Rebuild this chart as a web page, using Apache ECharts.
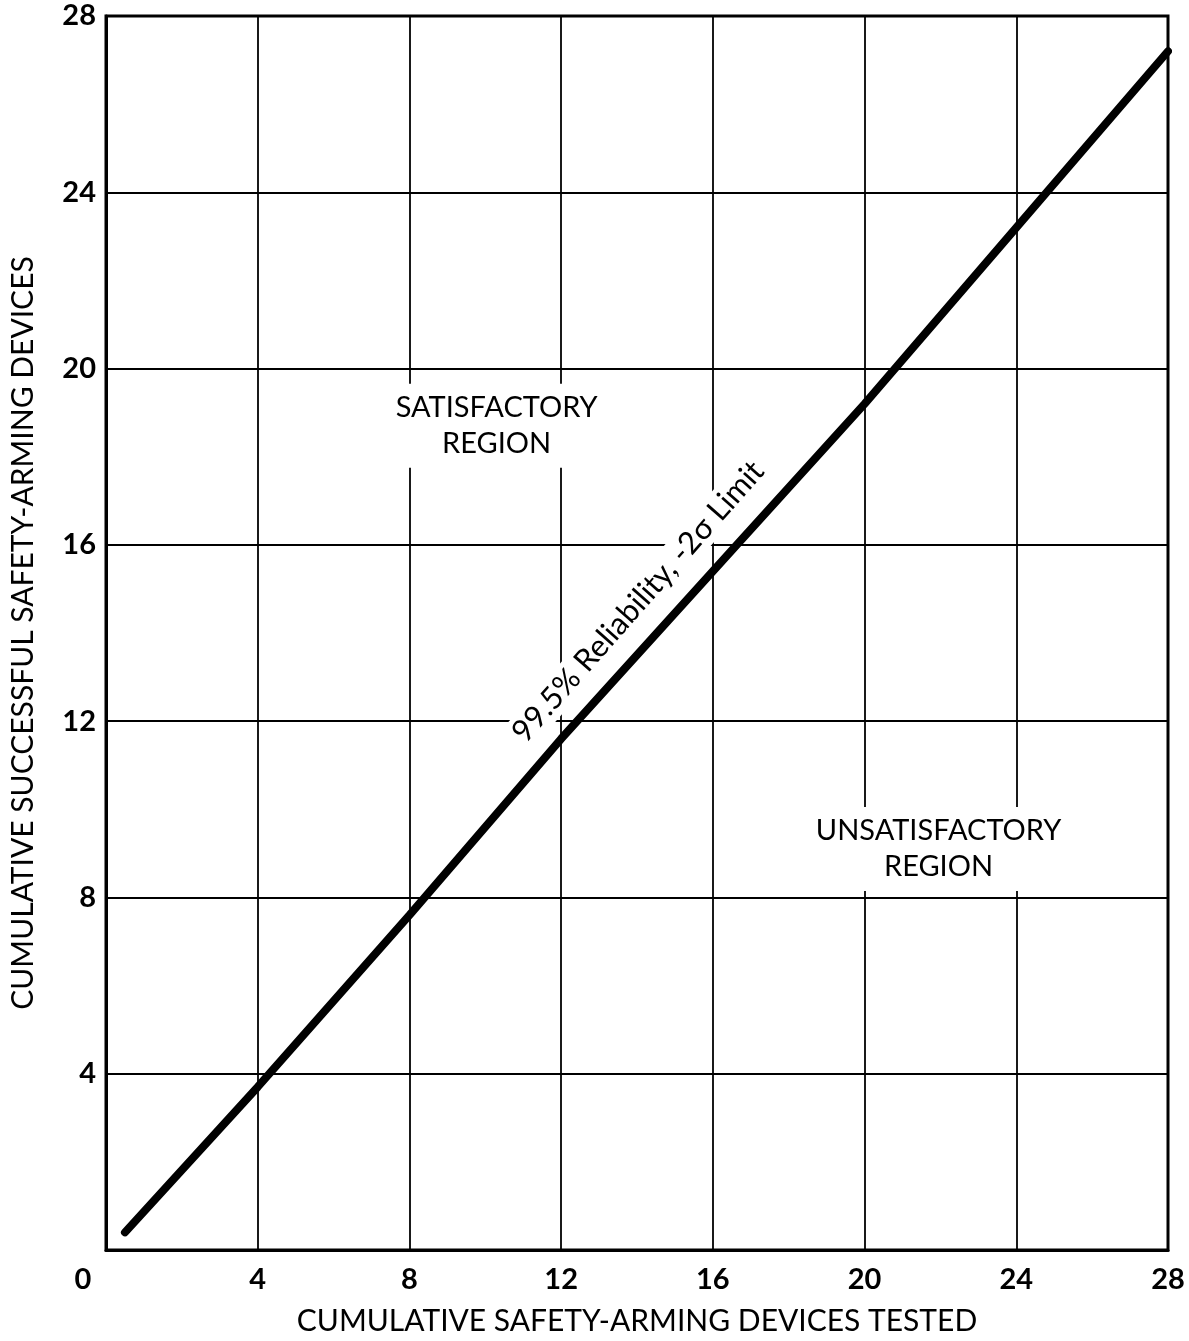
<!DOCTYPE html>
<html>
<head>
<meta charset="utf-8">
<script src="https://cdn.jsdelivr.net/npm/echarts@6/dist/echarts.min.js"></script>
<style>
  html, body { margin: 0; padding: 0; background: #fff; }
  #chart { width: 1189px; height: 1341px; }
</style>
</head>
<body>
<div id="chart"></div>
<script>
  // values
  var xTested = [0.5, 4, 8, 12, 16, 20, 24, 28]
  var ySuccess = [0.4, 3.7, 7.6, 11.6, 15.4, 19.2, 23.2, 27.2]
  var axisTicks = [0, 4, 8, 12, 16, 20, 24, 28]
  var xTitle = 'CUMULATIVE SAFETY-ARMING DEVICES TESTED'
  var yTitle = 'CUMULATIVE SUCCESSFUL SAFETY-ARMING DEVICES'
  var lineLabel = '99.5% Reliability, -2σ Limit'
  var goodLabel = 'SATISFACTORY\nREGION'
  var badLabel = 'UNSATISFACTORY\nREGION'

  var font = 'Lato, "Open Sans", sans-serif'
  var lineData = []
  for (var i = 0; i < xTested.length; i++) {
    lineData.push([xTested[i], ySuccess[i]])
  }

  var myChart = echarts.init(document.getElementById('chart'))
  myChart.setOption({
    animation: false,
    backgroundColor: '#fff',
    grid: {
      left: 105,
      right: 21,
      top: 16,
      bottom: 91,
      show: true,
      borderColor: '#000',
      borderWidth: 3
    },
    xAxis: {
      type: 'value',
      min: axisTicks[0],
      max: axisTicks[axisTicks.length - 1],
      interval: 4,
      name: xTitle,
      nameLocation: 'middle',
      nameGap: 56,
      nameTextStyle: { color: '#000', fontSize: 30, fontFamily: font },
      axisLine: { lineStyle: { color: '#000', width: 3 } },
      axisTick: { show: false },
      axisLabel: {
        margin: 15,
        color: '#000',
        fontSize: 29,
        fontWeight: 'bold',
        fontFamily: font,
        formatter: function (v) {
          return v === 0 ? '{z|0}' : String(v)
        },
        rich: {
          z: { fontSize: 29, fontWeight: 'bold', fontFamily: font, color: '#000', padding: [0, 46, 0, 0] }
        }
      },
      splitLine: { lineStyle: { color: '#000', width: 1.8 } }
    },
    yAxis: {
      type: 'value',
      min: axisTicks[0],
      max: axisTicks[axisTicks.length - 1],
      interval: 4,
      name: yTitle,
      nameLocation: 'middle',
      nameGap: 68,
      nameTextStyle: { color: '#000', fontSize: 30, fontFamily: font },
      axisLine: { lineStyle: { color: '#000', width: 3 } },
      axisTick: { show: false },
      axisLabel: {
        margin: 10,
        color: '#000',
        fontSize: 29,
        fontWeight: 'bold',
        fontFamily: font,
        formatter: function (v) {
          return v === 0 ? '' : String(v)
        }
      },
      splitLine: { lineStyle: { color: '#000', width: 1.8 } }
    },
    series: [
      {
        type: 'line',
        data: lineData,
        symbol: 'none',
        lineStyle: { color: '#000', width: 8, cap: 'round' },
        z: 5
      }
    ]
  })

  // text annotations placed from data coordinates
  var p0 = myChart.convertToPixel('grid', lineData[0])
  var p1 = myChart.convertToPixel('grid', lineData[lineData.length - 1])
  var ang = Math.atan2(p0[1] - p1[1], p1[0] - p0[0])
  var mid = myChart.convertToPixel('grid', [14.7, 14.2])
  var off = 34
  var lx = mid[0] - Math.sin(ang) * off
  var ly = mid[1] - Math.cos(ang) * off
  var good = myChart.convertToPixel('grid', [10.3, 18.7])
  var bad = myChart.convertToPixel('grid', [21.95, 9.1])

  myChart.setOption({
    graphic: [
      {
        type: 'text',
        x: lx,
        y: ly,
        rotation: ang,
        z: 10,
        style: {
          text: lineLabel,
          font: '31px ' + font,
          fill: '#000',
          align: 'center',
          verticalAlign: 'middle',
          backgroundColor: '#fff',
          padding: [2, 10]
        }
      },
      {
        type: 'text',
        x: good[0],
        y: good[1],
        z: 10,
        style: {
          text: goodLabel,
          font: '29px ' + font,
          fill: '#000',
          align: 'center',
          verticalAlign: 'middle',
          lineHeight: 36,
          backgroundColor: '#fff',
          padding: [6, 12]
        }
      },
      {
        type: 'text',
        x: bad[0],
        y: bad[1],
        z: 10,
        style: {
          text: badLabel,
          font: '29px ' + font,
          fill: '#000',
          align: 'center',
          verticalAlign: 'middle',
          lineHeight: 36,
          backgroundColor: '#fff',
          padding: [6, 12]
        }
      }
    ]
  })
</script>
</body>
</html>
